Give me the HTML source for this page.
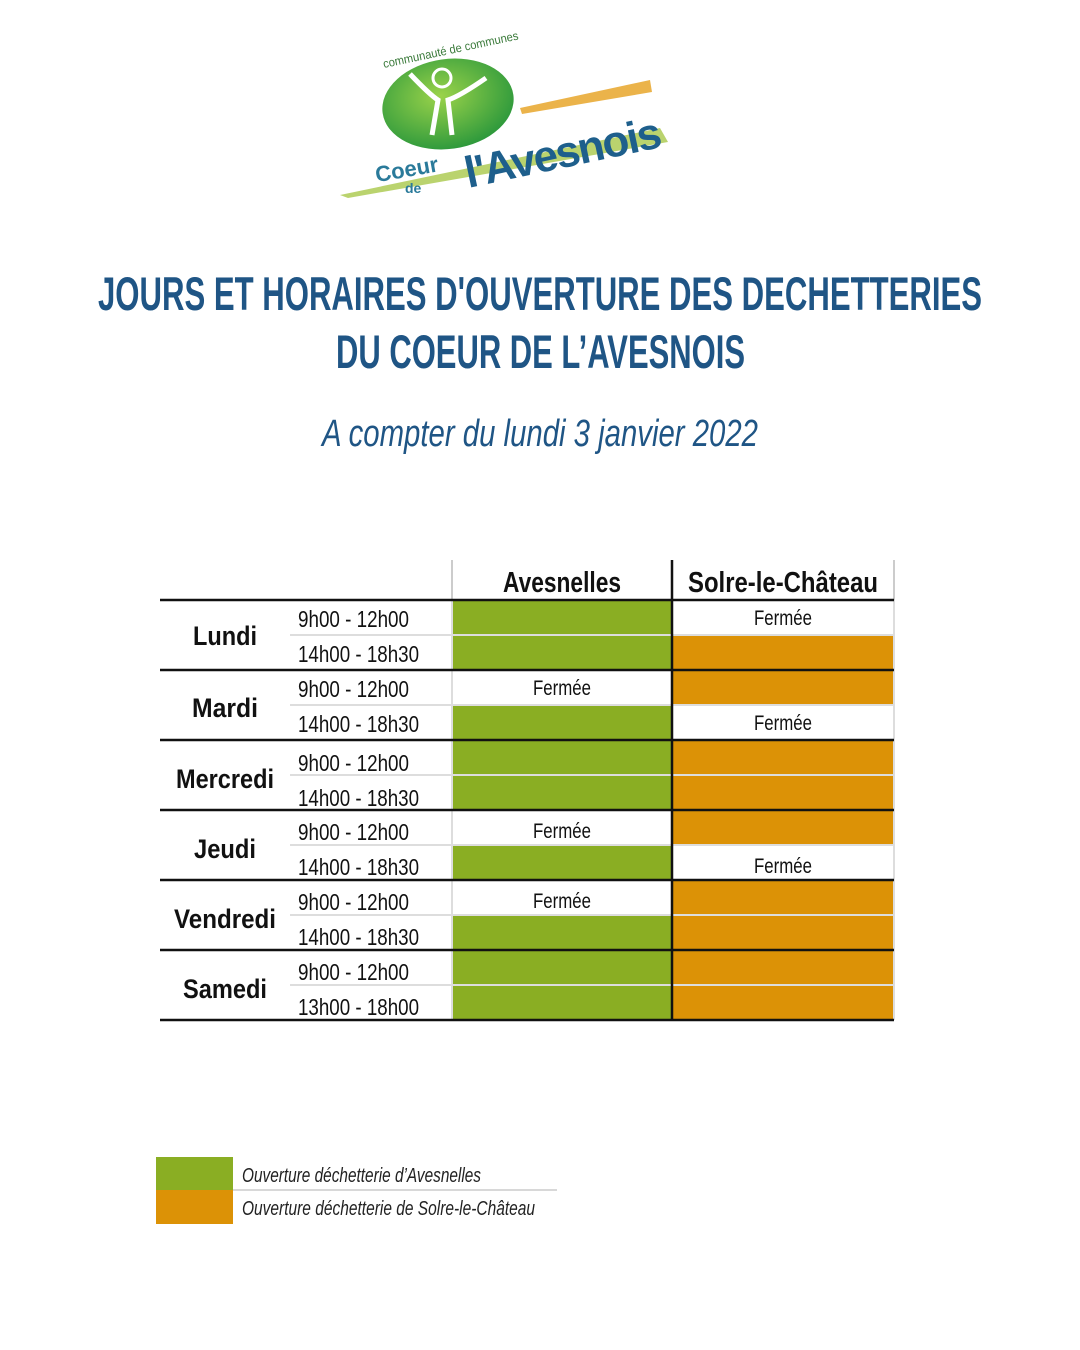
<!DOCTYPE html>
<html><head><meta charset="utf-8"><style>
html,body{margin:0;padding:0;background:#fff;}
svg{display:block;}
text{font-family:"Liberation Sans",sans-serif;}
</style></head><body>
<svg width="1080" height="1350" viewBox="0 0 1080 1350" xmlns="http://www.w3.org/2000/svg">
<rect width="1080" height="1350" fill="#fff"/>
<!-- logo -->
<defs><radialGradient id="g" cx="45%" cy="40%" r="60%"><stop offset="0" stop-color="#9bd34a"/><stop offset="1" stop-color="#2f9a3c"/></radialGradient></defs>
<polygon points="340,195 660,128 668,142 348,198" fill="#a9c84a" opacity="0.8"/>
<polygon points="520,108 650,80 652,92 522,114" fill="#e8a62a" opacity="0.85"/>
<ellipse cx="448" cy="104" rx="66" ry="45" fill="url(#g)" transform="rotate(-8 448 104)"/>
<text x="384" y="68" font-size="12" fill="#3a7a3a" transform="rotate(-12 384 68)" textLength="138" lengthAdjust="spacingAndGlyphs">communauté de communes</text>
<circle cx="442" cy="78" r="9" fill="none" stroke="#fff" stroke-width="3"/>
<path d="M410 74 Q430 95 438 100 L432 135 M486 78 Q460 96 448 100 L452 135" stroke="#fff" stroke-width="5" fill="none"/>
<text x="375" y="178" font-size="22" font-weight="bold" fill="#2a7a9a" transform="rotate(-10 400 170)">Coeur</text>
<text x="405" y="193" font-size="14" font-weight="bold" fill="#2a7a9a">de</text>
<text x="460" y="170" font-size="44" font-weight="bold" fill="#1e5f8c" transform="rotate(-12 550 140)" textLength="200">l'Avesnois</text>
<!-- titles -->
<text x="98" y="310" font-size="47" font-weight="bold" fill="#1f5585" textLength="884" lengthAdjust="spacingAndGlyphs">JOURS ET HORAIRES D'OUVERTURE DES DECHETTERIES</text>
<text x="336" y="368" font-size="47" font-weight="bold" fill="#1f5585" textLength="409" lengthAdjust="spacingAndGlyphs">DU COEUR DE L’AVESNOIS</text>
<text x="322" y="446" font-size="38" font-style="italic" fill="#1f5585" textLength="436" lengthAdjust="spacingAndGlyphs">A compter du lundi 3 janvier 2022</text>
<!-- table header -->
<line x1="452" y1="560" x2="452" y2="600" stroke="#ccc" stroke-width="2"/>
<line x1="894" y1="560" x2="894" y2="600" stroke="#ccc" stroke-width="2"/>
<text x="562" y="592" font-size="29" font-weight="bold" fill="#111" text-anchor="middle" textLength="118" lengthAdjust="spacingAndGlyphs">Avesnelles</text>
<text x="783" y="592" font-size="29" font-weight="bold" fill="#111" text-anchor="middle" textLength="190" lengthAdjust="spacingAndGlyphs">Solre-le-Château</text>
<!-- cells -->
<g>
<rect x="452" y="600" width="220" height="35" fill="#8aae23"/>
<rect x="452" y="635" width="220" height="35" fill="#8aae23"/>
<rect x="452" y="705" width="220" height="35" fill="#8aae23"/>
<rect x="452" y="740" width="220" height="35" fill="#8aae23"/>
<rect x="452" y="775" width="220" height="35" fill="#8aae23"/>
<rect x="452" y="845" width="220" height="35" fill="#8aae23"/>
<rect x="452" y="915" width="220" height="35" fill="#8aae23"/>
<rect x="452" y="950" width="220" height="35" fill="#8aae23"/>
<rect x="452" y="985" width="220" height="35" fill="#8aae23"/>
<rect x="672" y="635" width="222" height="35" fill="#dc9206"/>
<rect x="672" y="670" width="222" height="35" fill="#dc9206"/>
<rect x="672" y="740" width="222" height="35" fill="#dc9206"/>
<rect x="672" y="775" width="222" height="35" fill="#dc9206"/>
<rect x="672" y="810" width="222" height="35" fill="#dc9206"/>
<rect x="672" y="880" width="222" height="35" fill="#dc9206"/>
<rect x="672" y="915" width="222" height="35" fill="#dc9206"/>
<rect x="672" y="950" width="222" height="35" fill="#dc9206"/>
<rect x="672" y="985" width="222" height="35" fill="#dc9206"/>
</g>
<!-- light separators -->
<g stroke="#ddd" stroke-width="2">
<line x1="290" y1="635" x2="894" y2="635"/>
<line x1="290" y1="705" x2="894" y2="705"/>
<line x1="290" y1="775" x2="894" y2="775"/>
<line x1="290" y1="845" x2="894" y2="845"/>
<line x1="290" y1="915" x2="894" y2="915"/>
<line x1="290" y1="985" x2="894" y2="985"/>
<line x1="452" y1="600" x2="452" y2="1020"/>
<line x1="894" y1="600" x2="894" y2="1020"/>
</g>
<g stroke="#111" stroke-width="2.5">
<line x1="160" y1="600" x2="894" y2="600"/>
<line x1="160" y1="670" x2="894" y2="670"/>
<line x1="160" y1="740" x2="894" y2="740"/>
<line x1="160" y1="810" x2="894" y2="810"/>
<line x1="160" y1="880" x2="894" y2="880"/>
<line x1="160" y1="950" x2="894" y2="950"/>
<line x1="160" y1="1020" x2="894" y2="1020"/>
<line x1="672" y1="560" x2="672" y2="1020"/>
</g>
<!-- day labels -->
<g font-size="27" font-weight="bold" fill="#111" text-anchor="middle">
<text x="225" y="645" textLength="64" lengthAdjust="spacingAndGlyphs">Lundi</text>
<text x="225" y="717" textLength="66" lengthAdjust="spacingAndGlyphs">Mardi</text>
<text x="225" y="788" textLength="98" lengthAdjust="spacingAndGlyphs">Mercredi</text>
<text x="225" y="858" textLength="62" lengthAdjust="spacingAndGlyphs">Jeudi</text>
<text x="225" y="928" textLength="102" lengthAdjust="spacingAndGlyphs">Vendredi</text>
<text x="225" y="998" textLength="84" lengthAdjust="spacingAndGlyphs">Samedi</text>
</g>
<!-- times -->
<g font-size="23" fill="#111">
<text x="298" y="627" textLength="111" lengthAdjust="spacingAndGlyphs">9h00 - 12h00</text>
<text x="298" y="662" textLength="121" lengthAdjust="spacingAndGlyphs">14h00 - 18h30</text>
<text x="298" y="697" textLength="111" lengthAdjust="spacingAndGlyphs">9h00 - 12h00</text>
<text x="298" y="732" textLength="121" lengthAdjust="spacingAndGlyphs">14h00 - 18h30</text>
<text x="298" y="771" textLength="111" lengthAdjust="spacingAndGlyphs">9h00 - 12h00</text>
<text x="298" y="806" textLength="121" lengthAdjust="spacingAndGlyphs">14h00 - 18h30</text>
<text x="298" y="840" textLength="111" lengthAdjust="spacingAndGlyphs">9h00 - 12h00</text>
<text x="298" y="875" textLength="121" lengthAdjust="spacingAndGlyphs">14h00 - 18h30</text>
<text x="298" y="910" textLength="111" lengthAdjust="spacingAndGlyphs">9h00 - 12h00</text>
<text x="298" y="945" textLength="121" lengthAdjust="spacingAndGlyphs">14h00 - 18h30</text>
<text x="298" y="980" textLength="111" lengthAdjust="spacingAndGlyphs">9h00 - 12h00</text>
<text x="298" y="1015" textLength="121" lengthAdjust="spacingAndGlyphs">13h00 - 18h00</text>
</g>
<!-- Fermée -->
<g font-size="21" fill="#111" text-anchor="middle">
<text x="783" y="625" textLength="58" lengthAdjust="spacingAndGlyphs">Fermée</text>
<text x="562" y="695" textLength="58" lengthAdjust="spacingAndGlyphs">Fermée</text>
<text x="783" y="730" textLength="58" lengthAdjust="spacingAndGlyphs">Fermée</text>
<text x="562" y="838" textLength="58" lengthAdjust="spacingAndGlyphs">Fermée</text>
<text x="783" y="873" textLength="58" lengthAdjust="spacingAndGlyphs">Fermée</text>
<text x="562" y="908" textLength="58" lengthAdjust="spacingAndGlyphs">Fermée</text>
</g>
<!-- legend -->
<rect x="156" y="1157" width="77" height="33" fill="#8aae23"/>
<rect x="156" y="1190" width="77" height="34" fill="#dc9206"/>
<line x1="233" y1="1190" x2="557" y2="1190" stroke="#ccc" stroke-width="1.5"/>
<text x="242" y="1182" font-size="20" font-style="italic" fill="#222" textLength="239" lengthAdjust="spacingAndGlyphs">Ouverture déchetterie d’Avesnelles</text>
<text x="242" y="1215" font-size="20" font-style="italic" fill="#222" textLength="293" lengthAdjust="spacingAndGlyphs">Ouverture déchetterie de Solre-le-Château</text>
</svg>
</body></html>
